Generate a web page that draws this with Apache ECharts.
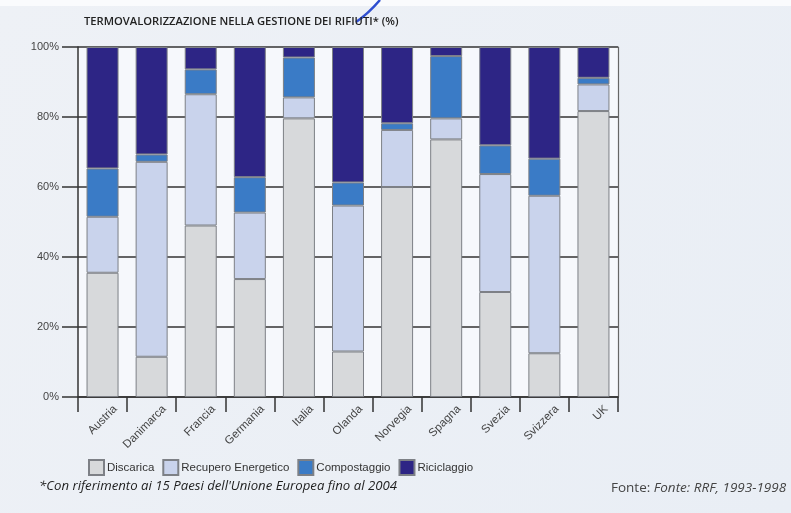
<!DOCTYPE html>
<html><head><meta charset="utf-8">
<script src="https://cdn.jsdelivr.net/npm/echarts@6/dist/echarts.min.js"></script>
<style>html,body{margin:0;padding:0;background:#edf1f6}#c{width:791px;height:513px}</style>
</head><body><div id="c"></div>
<script>
const categories = ['Austria','Danimarca','Francia','Germania','Italia','Olanda','Norvegia','Spagna','Svezia','Svizzera','UK'];
const discarica   = [35.5, 11.5, 49.0, 33.7, 79.6, 13.0, 60.0, 73.6, 30.0, 12.5, 81.7];
const recupero    = [16.0, 55.7, 37.5, 19.0,  6.0, 41.7, 16.3,  6.0, 33.7, 45.0,  7.6];
const compost     = [13.8,  2.1,  7.1, 10.1, 11.4,  6.6,  1.9, 17.8,  8.2, 10.6,  1.9];
const riciclaggio = [34.7, 30.7,  6.4, 37.2,  3.0, 38.7, 21.8,  2.6, 28.1, 31.9,  8.8];
const yTicks = ['0%','20%','40%','60%','80%','100%'];

const chart = echarts.init(document.getElementById('c'), null, {renderer:'canvas'});
const font = 'Liberation Sans, Arial, sans-serif';
function s(name, data, color){
  return {name, type:'bar', stack:'t', data, barWidth:32,
    itemStyle:{color, borderColor:'#7d8086', borderWidth:1}};
}
chart.setOption({
  backgroundColor:{type:'linear', x:0, y:0, x2:1, y2:1, colorStops:[
    {offset:0, color:'#eef1f6'}, {offset:1, color:'#e9eef5'}]},
  animation:false,
  title:[
    {text:'TERMOVALORIZZAZIONE NELLA GESTIONE DEI RIFIUTI* (%)', left:79, top:11,
     textStyle:{fontFamily:'Open Sans, sans-serif', fontWeight:600, fontSize:11.2, color:'#222'}},
    {text:"*Con riferimento ai 15 Paesi dell'Unione Europea fino al 2004", left:34, top:475,
     textStyle:{fontFamily:'Open Sans, sans-serif', fontStyle:'italic', fontWeight:'normal', fontSize:13.2, color:'#1e1e1e'}},
    {text:'{a|Fonte: }{b|Fonte: RRF, 1993-1998}', left:606, top:476,
     textStyle:{fontWeight:'normal', rich:{a:{fontFamily:'Open Sans, sans-serif', fontSize:13.5, fontWeight:'normal', color:'#444'},
                      b:{fontFamily:'Open Sans, sans-serif', fontSize:13.5, fontWeight:'normal', fontStyle:'italic', color:'#444'}}}}
  ],
  legend:{left:88, top:459, padding:0, itemWidth:15, itemHeight:15, itemGap:8, icon:'rect',
    textStyle:{fontFamily:font, fontSize:11.5, color:'#333', padding:[0,0,0,-2]},
    data:['Discarica','Recupero Energetico','Compostaggio','Riciclaggio']},
  grid:{left:78, right:173, top:47, bottom:116, show:true, backgroundColor:'#f6f8fc', borderWidth:0},
  xAxis:{type:'category', data:categories,
    axisLine:{lineStyle:{color:'#333', width:1.5}},
    axisTick:{show:true, interval:0, length:15, lineStyle:{color:'#333', width:1.5}},
    axisLabel:{rotate:45, interval:0, margin:23, fontFamily:font, fontSize:11.5, color:'#444',
      padding:[0,-18,0,0]}},
  yAxis:[{type:'value', min:0, max:100, interval:20,
    axisLine:{show:true, lineStyle:{color:'#333', width:1.5}},
    axisTick:{show:true, length:16, lineStyle:{color:'#333', width:1.5}},
    splitLine:{show:true, lineStyle:{color:'#333', width:1.5}},
    axisLabel:{margin:19, fontFamily:font, fontSize:11, color:'#444',
      formatter:(v)=>yTicks[Math.round(v/20)]}},
   {type:'value', min:0, max:100, interval:20, position:'right',
    axisLine:{show:true, lineStyle:{color:'#666', width:1.2}},
    axisTick:{show:false}, splitLine:{show:false}, axisLabel:{show:false}}],
  graphic:[
    {type:'rect', shape:{x:0, y:0, width:791, height:6}, style:{fill:'#fafbfd'}, z:-1},
    {type:'bezierCurve', shape:{x1:356, y1:22, x2:380, y2:0, cpx1:368, cpy1:14},
    style:{stroke:'#2f4fd0', lineWidth:2.5, fill:null}}],
  series:[
    s('Discarica', discarica, '#d7d9db'),
    s('Recupero Energetico', recupero, '#c9d3ec'),
    s('Compostaggio', compost, '#3a7bc6'),
    s('Riciclaggio', riciclaggio, '#2d2585')
  ]
});
</script></body></html>
